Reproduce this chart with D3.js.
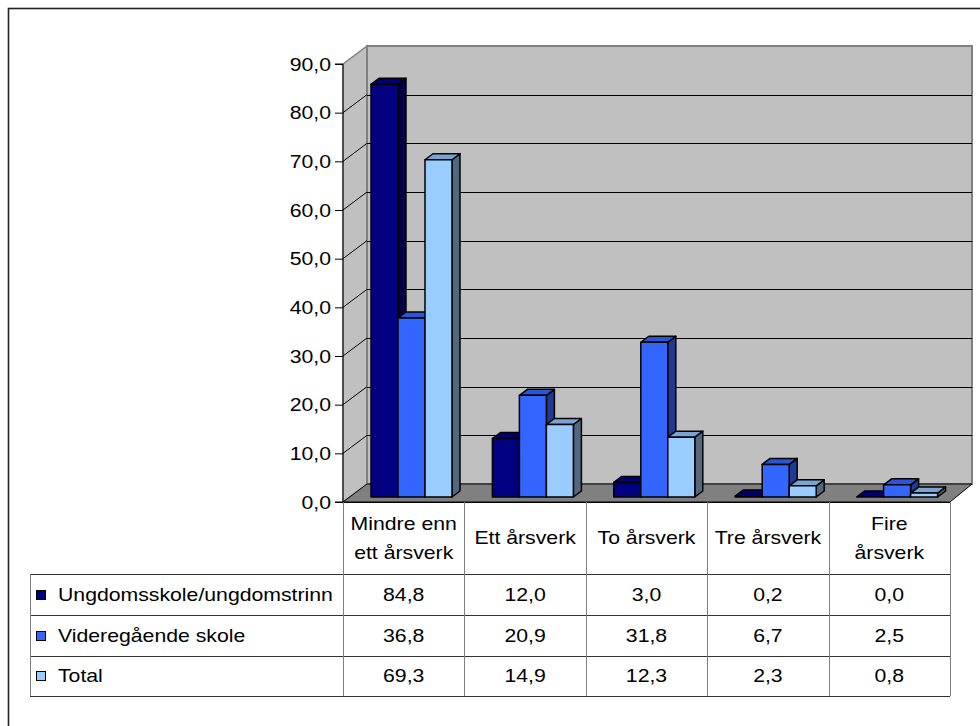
<!DOCTYPE html>
<html>
<head>
<meta charset="utf-8">
<script src="https://cdn.jsdelivr.net/npm/d3@7"></script>
<style>
  html, body { margin: 0; padding: 0; background: #fff; }
  svg { display: block; font-family: "Liberation Sans", Arial, sans-serif; }
</style>
</head>
<body>
<svg id="chart" width="980" height="726"></svg>
<script>
// Årsverk per skole, fordelt på skoleslag (prosent)
const categories = [["Mindre enn", "ett årsverk"], ["Ett årsverk"], ["To årsverk"], ["Tre årsverk"], ["Fire", "årsverk"]];
const series = ["Ungdomsskole/ungdomstrinn", "Videregående skole", "Total"];
const ungdomsskole = [84.8, 12.0, 3.0, 0.2, 0.0];
const videregaende = [36.8, 20.9, 31.8, 6.7, 2.5];
const total = [69.3, 14.9, 12.3, 2.3, 0.8];
const yTicks = [0, 10, 20, 30, 40, 50, 60, 70, 80, 90];

const values = [ungdomsskole, videregaende, total];
const colors = [
  { front: "#000080", top: "#000070", side: "#000044" },
  { front: "#3366ff", top: "#2c55d6", side: "#1f3a8f" },
  { front: "#99ccff", top: "#78a4d2", side: "#52687f" }
];

const svg = d3.select("#chart");
const fmt = v => v.toFixed(1).replace(".", ",");

// Text is set slightly wide
const FONT = 18, STRETCH = 1.18;
function label(parent, x0, y0, txt, anchor) {
  return parent.append("text")
    .attr("transform", `translate(${x0},${y0}) scale(${STRETCH},1)`)
    .attr("text-anchor", anchor || "start").attr("dy", "0.35em")
    .attr("font-size", FONT).attr("fill", "#000").text(txt);
}

// Layout
const plotLeft = 343, plotRight = 950, plotTop = 64, plotBottom = 502;
const depth = { dx: 24, dy: -18 };       // wall/floor depth
const barDepth = { dx: 8, dy: -6 };      // column depth
const barPlane = { dx: 7, dy: -5 };      // columns sit a little behind the front plane
const tableLeft = 30;
const rowLines = [574, 615, 656, 696];

const y = d3.scaleLinear().domain([0, 90]).range([plotBottom, plotTop]);
const x = d3.scaleBand().domain(d3.range(categories.length)).range([plotLeft, plotRight]);
const xs = d3.scaleBand().domain(d3.range(series.length)).range([0, 81]);

// Outer frame
svg.append("rect").attr("x", 8.5).attr("y", 8.5).attr("width", 1000).attr("height", 1000)
  .attr("fill", "none").attr("stroke", "#222").attr("stroke-width", 1.6);

// Left side wall
const pathOf = pts => "M" + pts.map(p => p.join(",")).join("L") + "Z";
svg.append("path")
  .attr("d", pathOf([[plotLeft, y(90)], [plotLeft + depth.dx, y(90) + depth.dy], [plotLeft + depth.dx, y(0) + depth.dy], [plotLeft, y(0)]]))
  .attr("fill", "#c0c0c0").attr("stroke", "#808080").attr("stroke-width", 1.5);

// Back wall
svg.append("rect")
  .attr("x", plotLeft + depth.dx).attr("y", y(90) + depth.dy)
  .attr("width", (plotRight + 22) - (plotLeft + depth.dx)).attr("height", y(0) - y(90))
  .attr("fill", "#c0c0c0").attr("stroke", "#808080").attr("stroke-width", 2);

// Floor
svg.append("path")
  .attr("d", pathOf([[plotLeft, y(0)], [plotLeft + depth.dx, y(0) + depth.dy], [plotRight + 22, y(0) + depth.dy], [plotRight, y(0)]]))
  .attr("fill", "#808080").attr("stroke", "#000").attr("stroke-width", 1);

// Gridlines on back wall and side wall
const grid = svg.append("g").attr("stroke", "#000").attr("stroke-width", 1);
yTicks.filter(t => t > 0 && t < 90).forEach(t => {
  const yy = Math.round(y(t) + depth.dy) + 0.5;
  grid.append("line").attr("x1", plotLeft + depth.dx).attr("x2", plotRight + 22).attr("y1", yy).attr("y2", yy);
  grid.append("line").attr("x1", plotLeft).attr("y1", y(t)).attr("x2", plotLeft + depth.dx).attr("y2", y(t) + depth.dy);
});

// Columns
const bars = svg.append("g").attr("stroke", "#000").attr("stroke-width", 1.5).attr("stroke-linejoin", "round");
categories.forEach((c, ci) => {
  series.forEach((s, si) => {
    const v = values[si][ci];
    const x0 = x(ci) + 21 + barPlane.dx + xs(si);
    const x1 = x0 + xs.bandwidth();
    const yb = y(0) + barPlane.dy;
    const yt = y(v) + barPlane.dy;
    const dx = barDepth.dx, dy = barDepth.dy;
    bars.append("path").attr("d", pathOf([[x1, yt], [x1 + dx, yt + dy], [x1 + dx, yb + dy], [x1, yb]]))
      .attr("fill", colors[si].side);
    bars.append("path").attr("d", pathOf([[x0, yt], [x0 + dx, yt + dy], [x1 + dx, yt + dy], [x1, yt]]))
      .attr("fill", colors[si].top);
    if (yb - yt > 0.3) {
      bars.append("rect").attr("x", x0).attr("y", yt).attr("width", x1 - x0).attr("height", yb - yt)
        .attr("fill", colors[si].front);
    }
  });
});

// Value axis
const axis = svg.append("g").attr("transform", `translate(${plotLeft},0)`)
  .call(d3.axisLeft(y).tickValues(yTicks).tickSize(8).tickFormat(fmt));
axis.select(".domain").attr("stroke", "#000").attr("d", `M-8,${y(90)}H0V${y(0)}H-8`);
axis.selectAll(".tick line").attr("stroke", "#000");
axis.selectAll(".tick text")
  .attr("x", null).attr("dy", "0.35em")
  .attr("transform", `translate(-12,0) scale(${STRETCH},1)`)
  .attr("font-size", FONT).attr("fill", "#000")
  .attr("font-family", "Liberation Sans, Arial, sans-serif");

// Data table
const table = svg.append("g");
// front edge of floor / table top
table.append("line").attr("x1", plotLeft).attr("x2", plotRight).attr("y1", plotBottom + 0.5).attr("y2", plotBottom + 0.5)
  .attr("stroke", "#000");
rowLines.forEach(r => {
  table.append("line").attr("x1", tableLeft).attr("x2", plotRight).attr("y1", r + 0.5).attr("y2", r + 0.5)
    .attr("stroke", "#333");
});
table.append("line").attr("x1", tableLeft + 0.5).attr("x2", tableLeft + 0.5)
  .attr("y1", rowLines[0]).attr("y2", rowLines[3]).attr("stroke", "#808080");
d3.range(categories.length + 1).forEach(i => {
  const xx = Math.round(i < categories.length ? x(i) : plotRight) + 0.5;
  table.append("line").attr("x1", xx).attr("x2", xx).attr("y1", plotBottom).attr("y2", rowLines[3])
    .attr("stroke", "#808080");
});

// Category headers
categories.forEach((lines, ci) => {
  const cx = x(ci) + x.bandwidth() / 2;
  const cy = (plotBottom + rowLines[0]) / 2;
  lines.forEach((ln, li) => {
    label(table, cx, cy + (li - (lines.length - 1) / 2) * 29, ln, "middle");
  });
});

// Series rows with legend keys
series.forEach((s, si) => {
  const cy = (rowLines[si] + rowLines[si + 1]) / 2;
  table.append("rect").attr("x", 36.5).attr("y", Math.round(cy - 5) + 0.5).attr("width", 9).attr("height", 9)
    .attr("fill", colors[si].front).attr("stroke", "#000").attr("stroke-width", 1);
  label(table, 58, cy, s, "start");
  values[si].forEach((v, ci) => {
    label(table, x(ci) + x.bandwidth() / 2, cy, fmt(v), "middle");
  });
});
</script>
</body>
</html>
